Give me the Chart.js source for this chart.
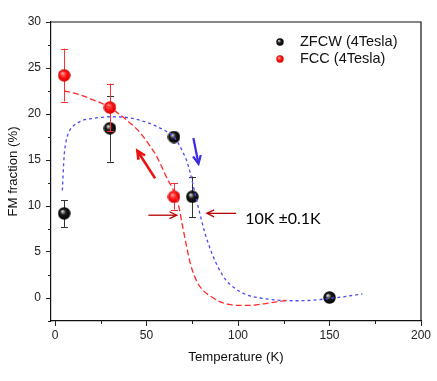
<!DOCTYPE html>
<html><head><meta charset="utf-8">
<script src="https://cdn.jsdelivr.net/npm/chart.js@4/dist/chart.umd.min.js"></script>
<style>html,body{margin:0;padding:0;background:#fff;}</style>
</head><body>
<canvas id="c" width="437" height="381"></canvas>
<script>
// ---- data ----
const zfcwT = [5, 30, 65, 75, 150];
const zfcwFM = [9.2, 18.45, 17.5, 11.0, 0.05];
const zfcwErrLow = [7.7, 14.8, null, 8.8, null];
const zfcwErrHigh = [10.6, 22.0, null, 13.2, null];

const fccT = [5, 30, 65];
const fccFM = [24.2, 20.7, 11.0];
const fccErrLow = [21.35, 18.1, 9.6];
const fccErrHigh = [27.1, 23.3, 12.45];

const zfcwFitT  = [4, 5, 6, 8, 10, 15, 20, 30, 40, 50, 55, 60, 65, 68, 70, 72, 74, 76, 78, 80, 82, 84, 86, 88, 90, 94, 98, 102, 106, 112, 120, 130, 140, 150, 160, 168];
const zfcwFitFM = [11.7, 15.5, 17.0, 18.2, 18.7, 19.3, 19.5, 19.7, 19.6, 19.1, 18.7, 18.2, 17.5, 16.6, 15.8, 14.9, 13.5, 11.8, 10.1, 8.5, 7.0, 5.8, 4.7, 3.8, 3.0, 1.8, 1.1, 0.6, 0.25, 0.0, -0.2, -0.3, -0.25, -0.05, 0.2, 0.45];

const fccFitT  = [5, 10, 15, 20, 25, 30, 35, 40, 45, 48, 52, 55, 58, 61, 64, 66, 68, 70, 72, 74, 76, 78, 81, 85, 90, 95, 100, 105, 110, 115, 120, 127];
const fccFitFM = [22.5, 22.3, 22.0, 21.6, 21.2, 20.7, 20.0, 19.2, 18.3, 17.6, 16.5, 15.6, 14.4, 13.1, 12.0, 11.2, 9.6, 7.5, 5.5, 3.7, 2.5, 1.6, 0.8, 0.2, -0.4, -0.7, -0.8, -0.8, -0.75, -0.6, -0.45, -0.25];

const xTicks = [0, 50, 100, 150, 200];
const xMinorTicks = [25, 75, 125, 175];
const yTicks = [0, 5, 10, 15, 20, 25, 30];
const yMinorTicks = [-2.5, 2.5, 7.5, 12.5, 17.5, 22.5, 27.5];

const seriesNames = ['ZFCW (4Tesla)', 'FCC (4Tesla)'];
const annotationText = '10K \u00b10.1K';
const xTitle = 'Temperature (K)';
const yTitle = 'FM fraction (%)';

// ---- sphere markers ----
function sphere(d, type) {
  const cv = document.createElement('canvas');
  cv.width = d; cv.height = d;
  const g = cv.getContext('2d');
  const r = d / 2;
  const grad = g.createRadialGradient(r * 0.7, r * 0.65, 0, r, r, r);
  if (type === 'black') {
    grad.addColorStop(0, '#ffffff');
    grad.addColorStop(0.18, '#9a9a9a');
    grad.addColorStop(0.45, '#1a1a1a');
    grad.addColorStop(1, '#000000');
  } else {
    grad.addColorStop(0, '#ffd8d8');
    grad.addColorStop(0.2, '#ff6a6a');
    grad.addColorStop(0.55, '#ff1010');
    grad.addColorStop(1, '#d00000');
  }
  g.fillStyle = grad;
  g.beginPath(); g.arc(r, r, r - 0.3, 0, Math.PI * 2); g.fill();
  return cv;
}
const blackBall = sphere(13, 'black');
const redBall = sphere(13, 'red');
const blackBallSm = sphere(8, 'black');
const redBallSm = sphere(8, 'red');

function pts(xs, ys) { return xs.map((x, i) => ({ x: x, y: ys[i] })); }

function drawErr(chart, xs, lo, hi, color) {
  const ctx = chart.ctx, xs_ = chart.scales.x, ys_ = chart.scales.y;
  ctx.save();
  ctx.strokeStyle = color; ctx.lineWidth = 1;
  xs.forEach((x, i) => {
    if (lo[i] == null) return;
    const px = Math.round(xs_.getPixelForValue(x)) + 0.5;
    const y1 = ys_.getPixelForValue(lo[i]), y2 = ys_.getPixelForValue(hi[i]);
    ctx.beginPath();
    ctx.moveTo(px, y1); ctx.lineTo(px, y2);
    ctx.moveTo(px - 3.5, Math.round(y1) + 0.5); ctx.lineTo(px + 3.5, Math.round(y1) + 0.5);
    ctx.moveTo(px - 3.5, Math.round(y2) + 0.5); ctx.lineTo(px + 3.5, Math.round(y2) + 0.5);
    ctx.stroke();
  });
  ctx.restore();
}

function arrow(ctx, x1, y1, x2, y2, color, lw, head) {
  const a = Math.atan2(y2 - y1, x2 - x1);
  ctx.save();
  ctx.strokeStyle = color; ctx.lineWidth = lw; ctx.lineCap = 'butt'; ctx.lineJoin = 'miter';
  ctx.beginPath(); ctx.moveTo(x1, y1); ctx.lineTo(x2, y2); ctx.stroke();
  ctx.beginPath();
  ctx.moveTo(x2 - head * Math.cos(a - 0.45), y2 - head * Math.sin(a - 0.45));
  ctx.lineTo(x2, y2);
  ctx.lineTo(x2 - head * Math.cos(a + 0.45), y2 - head * Math.sin(a + 0.45));
  ctx.stroke();
  ctx.restore();
}

// annotation anchors in data units
const redArrow = [[54.7, 13.0], [45.0, 16.0]];
const blueArrow = [[75.6, 17.4], [78.4, 14.6]];
const leftArrow = [[51.0, 9.0], [66.5, 9.0]];
const rightArrow = [[99.0, 9.2], [83.0, 9.2]];
const textAnchor = [103.9, 8.6];

const extras = {
  id: 'extras',
  beforeDatasetDraw(chart, args) {
    const ds = chart.data.datasets[args.index];
    if (ds.errLow) drawErr(chart, ds.xs, ds.errLow, ds.errHigh, ds.errColor);
  },
  afterDatasetsDraw(chart) {
    const ctx = chart.ctx, sx = chart.scales.x, sy = chart.scales.y, ca = chart.chartArea;
    const P = p => [sx.getPixelForValue(p[0]), sy.getPixelForValue(p[1])];
    // arrows
    let a = P(redArrow[0]), b = P(redArrow[1]);
    arrow(ctx, a[0], a[1], b[0], b[1], '#ee1111', 2.6, 9);
    a = P(blueArrow[0]); b = P(blueArrow[1]);
    arrow(ctx, a[0], a[1], b[0], b[1], '#3a2be0', 2.2, 9);
    a = P(leftArrow[0]); b = P(leftArrow[1]);
    arrow(ctx, a[0], a[1], b[0], b[1], '#b80000', 1.3, 8);
    a = P(rightArrow[0]); b = P(rightArrow[1]);
    arrow(ctx, a[0], a[1], b[0], b[1], '#b80000', 1.3, 8);
    // annotation text
    const t = P(textAnchor);
    ctx.save();
    ctx.fillStyle = '#000';
    ctx.font = '16px Lato, "Open Sans", sans-serif';
    ctx.textBaseline = 'middle'; ctx.textAlign = 'left';
    ctx.fillText(annotationText, t[0], t[1]);
    ctx.restore();
  },
  afterDraw(chart) {
    const ctx = chart.ctx, sx = chart.scales.x, sy = chart.scales.y, ca = chart.chartArea;
    ctx.save();
    // box top/right
    ctx.strokeStyle = '#111'; ctx.lineWidth = 1.2;
    ctx.beginPath();
    ctx.moveTo(ca.left, ca.top); ctx.lineTo(ca.right, ca.top); ctx.lineTo(ca.right, ca.bottom);
    ctx.stroke();
    // minor ticks
    ctx.strokeStyle = '#222'; ctx.lineWidth = 1;
    ctx.beginPath();
    xMinorTicks.forEach(v => {
      const px = Math.round(sx.getPixelForValue(v)) + 0.5;
      ctx.moveTo(px, ca.bottom); ctx.lineTo(px, ca.bottom + 3);
    });
    yMinorTicks.forEach(v => {
      const py = Math.round(sy.getPixelForValue(v)) + 0.5;
      ctx.moveTo(ca.left, py); ctx.lineTo(ca.left - 3, py);
    });
    ctx.stroke();
    // legend
    ctx.fillStyle = '#111';
    ctx.font = '14.5px Arial, "Liberation Sans", sans-serif';
    ctx.textBaseline = 'middle'; ctx.textAlign = 'left';
    ctx.drawImage(blackBallSm, 276, 38);
    ctx.fillText(seriesNames[0], 300, 42);
    ctx.drawImage(redBallSm, 276, 55);
    ctx.fillText(seriesNames[1], 300, 59);
    ctx.restore();
  }
};

const font = { family: 'Arial, "Liberation Sans", sans-serif', size: 12 };

new Chart(document.getElementById('c'), {
  type: 'line',
  data: {
    datasets: [
      {
        label: seriesNames[0], data: pts(zfcwT, zfcwFM), xs: zfcwT,
        errLow: zfcwErrLow, errHigh: zfcwErrHigh, errColor: '#333',
        showLine: false, pointStyle: blackBall, pointRadius: 6.5, order: 4
      },
      {
        label: seriesNames[1], data: pts(fccT, fccFM), xs: fccT,
        errLow: fccErrLow, errHigh: fccErrHigh, errColor: '#ff3030',
        showLine: false, pointStyle: redBall, pointRadius: 6.5, order: 3
      },
      {
        label: 'ZFCW fit', data: pts(zfcwFitT, zfcwFitFM),
        borderColor: '#4a4af5', borderWidth: 1.3, borderDash: [3, 3],
        pointRadius: 0, cubicInterpolationMode: 'monotone', fill: false, order: 2
      },
      {
        label: 'FCC fit', data: pts(fccFitT, fccFitFM),
        borderColor: '#ff2a2a', borderWidth: 1.3, borderDash: [6, 3],
        pointRadius: 0, cubicInterpolationMode: 'monotone', fill: false, order: 1
      }
    ]
  },
  options: {
    responsive: false, animation: false, devicePixelRatio: 1,
    layout: { padding: { top: 22, right: 16, left: 0, bottom: 0 } },
    plugins: { legend: { display: false }, tooltip: { enabled: false } },
    scales: {
      x: {
        type: 'linear', min: -2.2, max: 200,
        afterBuildTicks: s => { s.ticks = xTicks.map(v => ({ value: v })); },
        afterFit: s => { s.height = 60; },
        ticks: { color: '#222', font: font, padding: 2, maxRotation: 0, autoSkip: false },
        grid: { drawOnChartArea: false, drawTicks: true, tickLength: 5, color: '#222', lineWidth: 1 },
        border: { display: true, color: '#111', width: 1.2 },
        title: { display: true, text: xTitle, color: '#111', font: { family: font.family, size: 13.2 }, padding: { top: 0, bottom: 16 } }
      },
      y: {
        type: 'linear', min: -2.5, max: 30,
        afterBuildTicks: s => { s.ticks = yTicks.map(v => ({ value: v })); },
        afterFit: s => { s.width = 51; },
        ticks: { color: '#222', font: font, padding: 5, autoSkip: false },
        grid: { drawOnChartArea: false, drawTicks: true, tickLength: 5, color: '#222', lineWidth: 1 },
        border: { display: true, color: '#111', width: 1.2 },
        title: { display: true, text: yTitle, color: '#111', font: { family: font.family, size: 13.2 }, padding: { top: 5, bottom: 0 } }
      }
    }
  },
  plugins: [extras]
});
</script>
</body></html>
